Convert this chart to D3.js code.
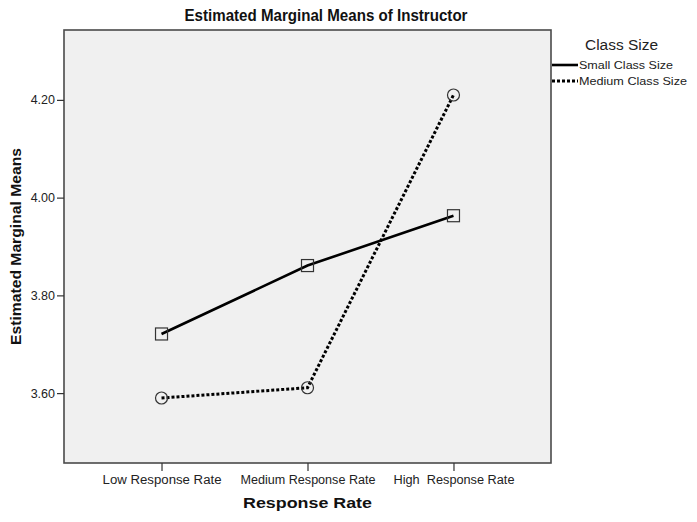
<!DOCTYPE html>
<html>
<head>
<meta charset="utf-8">
<script src="https://cdn.jsdelivr.net/npm/d3@7/dist/d3.min.js"></script>
<style>
  html, body { margin: 0; padding: 0; background: #fff; }
  svg { display: block; font-family: "Liberation Sans", Arial, sans-serif; }
</style>
</head>
<body>
<svg id="chart" width="697" height="522"></svg>
<script>
const categories = ["Low Response Rate", "Medium Response Rate", "High  Response Rate"];
const seriesNames = ["Small Class Size", "Medium Class Size"];
const smallClass = [3.721, 3.861, 3.963];
const mediumClass = [3.590, 3.611, 4.210];
const yTicks = [3.60, 3.80, 4.00, 4.20];
const xLabelLengths = [119, 135, 121];

const svg = d3.select("#chart");
const plot = { left: 64, right: 551, top: 30, bottom: 463 };

const x = d3.scalePoint().domain(categories).range([plot.left, plot.right]).padding(0.668);
const y = d3.scaleLinear().domain([3.457, 4.343]).range([plot.bottom, plot.top]);

// plot background
svg.append("rect")
  .attr("x", plot.left).attr("y", plot.top)
  .attr("width", plot.right - plot.left).attr("height", plot.bottom - plot.top)
  .attr("fill", "#f0f0f0").attr("stroke", "#4a4a4a").attr("stroke-width", 1.6);

// axes
const yAxis = d3.axisLeft(y).tickValues(yTicks).tickFormat(d3.format(".2f")).tickSize(7).tickPadding(2);
const gy = svg.append("g").attr("transform", `translate(${plot.left},0)`).call(yAxis);
gy.select(".domain").remove();
gy.selectAll(".tick line").attr("stroke", "#333").attr("stroke-width", 1.2);
gy.selectAll(".tick text").attr("font-size", 12.5).attr("fill", "#222")
  .attr("font-family", "Liberation Sans, Arial, sans-serif");

const xAxis = d3.axisBottom(x).tickSize(8).tickPadding(4);
const gx = svg.append("g").attr("transform", `translate(0,${plot.bottom})`).call(xAxis);
gx.select(".domain").remove();
gx.selectAll(".tick line").attr("stroke", "#333").attr("stroke-width", 1.2);
gx.selectAll(".tick text").attr("font-size", 12.5).attr("fill", "#222")
  .attr("font-family", "Liberation Sans, Arial, sans-serif")
  .style("white-space", "pre").attr("xml:space", "preserve")
  .attr("textLength", (d, i) => xLabelLengths[i]).attr("lengthAdjust", "spacingAndGlyphs");

// lines
const line = d3.line().x((d, i) => x(categories[i])).y(d => y(d));
svg.append("path").datum(smallClass).attr("d", line)
  .attr("fill", "none").attr("stroke", "#000").attr("stroke-width", 2.6);
svg.append("path").datum(mediumClass).attr("d", line)
  .attr("fill", "none").attr("stroke", "#000").attr("stroke-width", 3).attr("stroke-dasharray", "3,2");

// markers
svg.selectAll("rect.mk").data(smallClass).join("rect").attr("class", "mk")
  .attr("x", (d, i) => x(categories[i]) - 6).attr("y", d => y(d) - 6)
  .attr("width", 12).attr("height", 12)
  .attr("fill", "none").attr("stroke", "#333").attr("stroke-width", 1.2);
svg.selectAll("circle.mk").data(mediumClass).join("circle").attr("class", "mk")
  .attr("cx", (d, i) => x(categories[i])).attr("cy", d => y(d)).attr("r", 6)
  .attr("fill", "none").attr("stroke", "#333").attr("stroke-width", 1.2);

// title
svg.append("text").attr("x", 326).attr("y", 21).attr("text-anchor", "middle")
  .attr("font-size", 16).attr("font-weight", "bold").attr("fill", "#111")
  .attr("textLength", 283).attr("lengthAdjust", "spacingAndGlyphs")
  .text("Estimated Marginal Means of Instructor");

// axis titles
svg.append("text").attr("transform", "translate(21,246.5) rotate(-90)")
  .attr("text-anchor", "middle").attr("font-size", 15).attr("font-weight", "bold").attr("fill", "#111")
  .attr("textLength", 197).attr("lengthAdjust", "spacingAndGlyphs")
  .text("Estimated Marginal Means");
svg.append("text").attr("x", 307.5).attr("y", 508).attr("text-anchor", "middle")
  .attr("font-size", 15).attr("font-weight", "bold").attr("fill", "#111")
  .attr("textLength", 129).attr("lengthAdjust", "spacingAndGlyphs")
  .text("Response Rate");

// legend
svg.append("text").attr("x", 621.5).attr("y", 50).attr("text-anchor", "middle")
  .attr("font-size", 14).attr("fill", "#222")
  .attr("textLength", 73).attr("lengthAdjust", "spacingAndGlyphs")
  .text("Class Size");
const legY = [65, 81];
const legLens = [94, 108];
seriesNames.forEach((name, i) => {
  svg.append("line").attr("x1", 552).attr("x2", 578).attr("y1", legY[i]).attr("y2", legY[i])
    .attr("stroke", "#000").attr("stroke-width", i === 0 ? 2.6 : 3)
    .attr("stroke-dasharray", i === 0 ? null : "3,2");
  svg.append("text").attr("x", 579).attr("y", legY[i] + 4)
    .attr("font-size", 11.5).attr("fill", "#222")
    .attr("textLength", legLens[i]).attr("lengthAdjust", "spacingAndGlyphs")
    .text(name);
});
</script>
</body>
</html>
